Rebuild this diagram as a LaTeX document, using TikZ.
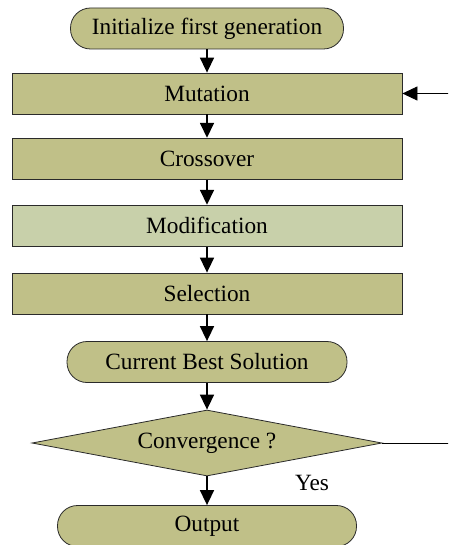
\documentclass[tikz,border=0pt]{standalone}
\usepackage{fontspec}
\setmainfont{Liberation Serif}
\usetikzlibrary{arrows.meta,shapes.geometric}
\definecolor{myolive}{HTML}{C0C088}
\definecolor{mylight}{HTML}{C8D0AA}
\definecolor{myline}{HTML}{2A2A2A}
\begin{document}
\begin{tikzpicture}[x=1pt,y=-1pt,
  box/.style={draw=myline, line width=0.8pt, fill=myolive, minimum width=390pt,
    minimum height=41pt, inner sep=0pt, font=\fontsize{23.3}{27}\selectfont},
  term/.style={box, rounded corners=20pt},
  dia/.style={diamond, draw=myline, line width=0.8pt, fill=myolive, aspect=5.3,
    minimum width=350pt, minimum height=66pt, inner sep=0pt, font=\fontsize{23.3}{27}\selectfont},
  arr/.style={-{Triangle[length=15pt,width=14pt]}, line width=1.6pt},
  fb/.style={draw=black, line width=0.7pt, -{Triangle[length=15pt,width=14pt]}},
  lbl/.style={font=\fontsize{23.3}{27}\selectfont, inner sep=0pt}]
\useasboundingbox (0,0) rectangle (448,545);
\clip (0,0) rectangle (448,545);
\node[term, minimum width=273pt] (init) at (207,28.5) {Initialize first generation};
\node[box] (mut) at (207,93.5) {Mutation};
\node[box] (cro) at (207,158.7) {Crossover};
\node[box, fill=mylight] (mod) at (207,225.7) {Modification};
\node[box] (sel) at (207,293.5) {Selection};
\node[term, minimum width=280pt] (cbs) at (207,362) {Current Best Solution};
\node[dia] (conv) at (207,443) {Convergence ?};
\node[term, minimum width=299pt] (out) at (207,526) {Output};
\node[lbl] (yes) at (312,483) {Yes};
\coordinate (fbr) at (452,443);
\draw[arr] (init) -- (mut);
\draw[arr] (mut) -- (cro);
\draw[arr] (cro) -- (mod);
\draw[arr] (mod) -- (sel);
\draw[arr] (sel) -- (cbs);
\draw[arr] (cbs) -- (conv);
\draw[arr] (conv) -- (out);
\draw[fb] (conv.east) -- (fbr) |- (mut.east);
\end{tikzpicture}
\end{document}
